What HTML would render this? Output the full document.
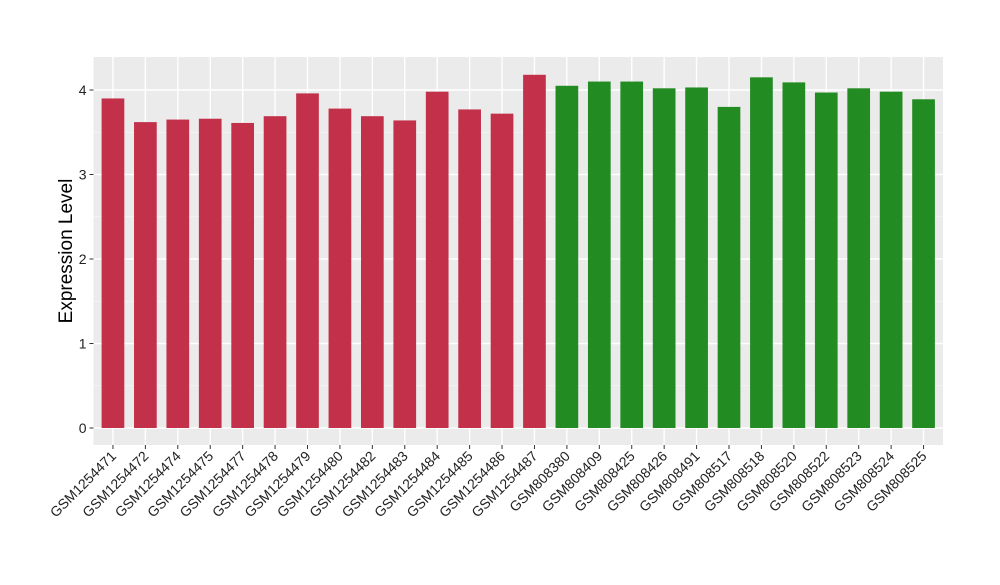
<!DOCTYPE html>
<html><head><meta charset="utf-8"><style>
body{margin:0;background:#fff;}
svg text{font-family:"Liberation Sans",Arial,sans-serif;}
</style></head><body>
<svg id="chart" width="1000" height="580" xmlns="http://www.w3.org/2000/svg">
<rect x="93.5" y="57" width="849.5" height="388" fill="#ebebeb"/>
<g id="grid"></g><g id="bars"></g><g id="xaxis"></g><g id="yaxis"></g>
<text transform="translate(72,251) rotate(-90)" text-anchor="middle" font-size="19" fill="#000">Expression Level</text>
</svg>
<script>
const categories=["GSM1254471","GSM1254472","GSM1254474","GSM1254475","GSM1254477","GSM1254478","GSM1254479","GSM1254480","GSM1254482","GSM1254483","GSM1254484","GSM1254485","GSM1254486","GSM1254487","GSM808380","GSM808409","GSM808425","GSM808426","GSM808491","GSM808517","GSM808518","GSM808520","GSM808522","GSM808523","GSM808524","GSM808525"];
const values=[3.90,3.62,3.65,3.66,3.61,3.69,3.96,3.78,3.69,3.64,3.98,3.77,3.72,4.18,4.05,4.10,4.10,4.02,4.03,3.80,4.15,4.09,3.97,4.02,3.98,3.89];
const groups=["a","a","a","a","a","a","a","a","a","a","a","a","a","a","b","b","b","b","b","b","b","b","b","b","b","b"];
const yTicks=[0,1,2,3,4];
const NS="http://www.w3.org/2000/svg";
const left=93.5,right=943,n=categories.length;
const step=(right-left)/(n-1+1.2);
const x=i=>left+step*(0.6+i);
const y=v=>428-v*84.5;
function mk(tag,attrs,parent){const e=document.createElementNS(NS,tag);for(const k in attrs)e.setAttribute(k,attrs[k]);document.getElementById(parent).appendChild(e);return e;}
for(let v=0.5;v<4.4;v+=1){const g=mk('line',{x1:left,x2:right,y1:y(v),y2:y(v),stroke:'#f5f5f5','stroke-width':0.8},'grid');

}
yTicks.forEach(t=>{const g=mk('line',{x1:left,x2:right,y1:y(t),y2:y(t),stroke:'#fff','stroke-width':1.4},'grid');


const tk=mk('line',{x1:left-4,x2:left,y1:y(t),y2:y(t),stroke:'#333','stroke-width':1},'yaxis');


const tl=mk('text',{x:left-7,y:y(t)+5,'text-anchor':'end','font-size':14,fill:'#222'},'yaxis');


tl.textContent=t;});
categories.forEach((c,i)=>{const g=mk('line',{x1:x(i),x2:x(i),y1:57,y2:445,stroke:'#fff','stroke-width':1.4},'grid');


const bw=step*0.7;
const b=mk('rect',{x:x(i)-bw/2,y:y(values[i]),width:bw,height:y(0)-y(values[i]),fill:groups[i]==='a'?'#c3304a':'#228b22'},'bars');


const tk=mk('line',{x1:x(i),x2:x(i),y1:445,y2:449,stroke:'#333','stroke-width':1},'xaxis');


const tl=mk('text',{transform:`translate(${x(i)+4},${457}) rotate(-45)`,'text-anchor':'end','font-size':14,fill:'#222'},'xaxis');


tl.textContent=c;});
</script>
</body></html>
